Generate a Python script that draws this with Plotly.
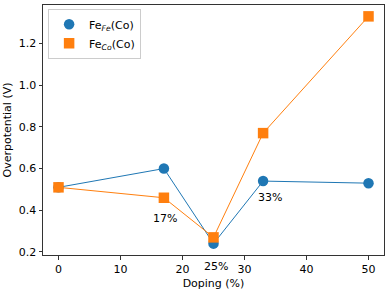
import plotly.graph_objects as go

doping = [0, 17, 25, 33, 50]
fe_fe = [0.51, 0.60, 0.24, 0.54, 0.53]
fe_co = [0.51, 0.46, 0.27, 0.77, 1.33]
labels = ["17%", "33%"]
label_x = [17.2, 34.1]
label_y = [0.36, 0.46]
below_label = "25%"
below_label_x = 25.4
x_ticks = [0, 10, 20, 30, 40, 50]
y_ticks = [0.2, 0.4, 0.6, 0.8, 1.0, 1.2]

blue = "#1f77b4"
orange = "#ff7f0e"
font = dict(family="DejaVu Sans", size=11, color="#000")

fig = go.Figure()
fig.add_trace(go.Scatter(x=doping, y=fe_fe, mode="lines+markers", showlegend=False,
                         line=dict(color=blue, width=1),
                         marker=dict(symbol="circle", size=10.5, color=blue)))
fig.add_trace(go.Scatter(x=doping, y=fe_co, mode="lines+markers", showlegend=False,
                         line=dict(color=orange, width=1),
                         marker=dict(symbol="square", size=10.5, color=orange)))
fig.add_trace(go.Scatter(x=[None], y=[None], mode="markers", name="Fe<sub><i>Fe</i></sub>(Co)",
                         marker=dict(symbol="circle", size=10.5, color=blue)))
fig.add_trace(go.Scatter(x=[None], y=[None], mode="markers", name="Fe<sub><i>Co</i></sub>(Co)",
                         marker=dict(symbol="square", size=10.5, color=orange)))

for t, xx, yy in zip(labels, label_x, label_y):
    fig.add_annotation(x=xx, y=yy, text=t, showarrow=False, xref="x", yref="y",
                       font=font)
fig.add_annotation(x=below_label_x, y=-0.044, text=below_label, showarrow=False,
                   xref="x", yref="paper", yanchor="middle", font=font)

axis_common = dict(showline=True, mirror=True, linecolor="#333", linewidth=1,
                   ticks="outside", ticklen=3.5, tickcolor="#333", showgrid=False,
                   zeroline=False, tickfont=font, automargin=False)
fig.update_xaxes(range=[-2.5, 52.5], tickvals=x_ticks,
                 title=dict(text="Doping (%)", font=font, standoff=4), **axis_common)
fig.update_yaxes(range=[0.1855, 1.3845], tickvals=y_ticks, tickformat=".1f",
                 title=dict(text="Overpotential (V)", font=font, standoff=4), **axis_common)

fig.update_layout(
    width=387, height=291,
    margin=dict(l=43, r=3, t=5, b=36),
    paper_bgcolor="white", plot_bgcolor="white",
    font=font,
    legend=dict(x=0.015, y=0.985, xanchor="left", yanchor="top",
                bgcolor="rgba(255,255,255,0.8)", bordercolor="#ccc", borderwidth=1,
                font=font, tracegroupgap=0, itemwidth=30),
)

fig.write_html("out.html", config={"displayModeBar": False},
               post_script="document.body.style.margin='0px';document.body.style.overflow='hidden';")
